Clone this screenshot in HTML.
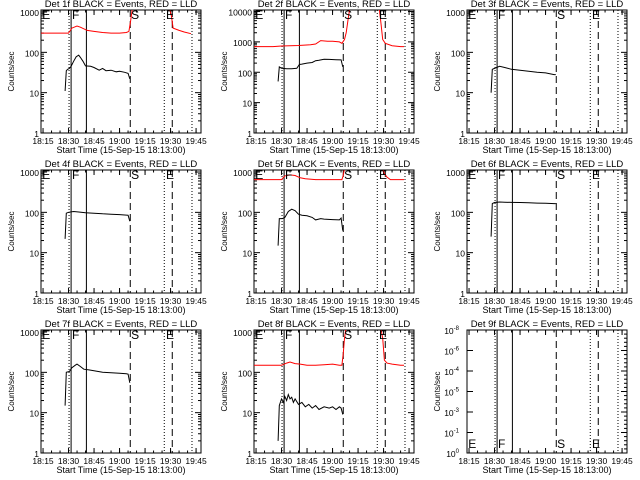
<!DOCTYPE html>
<html><head><meta charset="utf-8"><style>
body{margin:0;background:#fff;width:640px;height:480px;overflow:hidden}
svg{display:block;font-family:"Liberation Sans",sans-serif}
</style></head><body>
<svg id="fig" width="640" height="480" xmlns="http://www.w3.org/2000/svg"></svg>
<script>
// Time in minutes after 18:00; values in counts/sec
const xTickLabels = ["18:15","18:30","18:45","19:00","19:15","19:30","19:45"];
const xTickMinutes = [15,30,45,60,75,90,105];
const markerLines = [30.3, 31.5, 40.5, 66.3, 86.3, 91.0, 102.6];
const markerStyles = ["dot","solid","solid","dash","dot","dash","dot"];
const markerLetters = ["E","F","S","E"];
const markerLetterMinutes = [14.5, 32, 66.8, 87.3];

const blk1t = [28,28.7,29.5,30.5,31.5,33,34.5,36,37,38.5,40,43,45,48,50,52,55,58,60,63,65,66];
const blk1v = [11,35,38,40,45,60,78,85,75,60,46,45,42,36,40,35,36,33,34,32,30,22];
const red1t = [13.8,20,30,32,35,37,41,45,50,55,60,64,65.5,66.5,67.5,null,89.5,90.5,91.5,95,98,102];
const red1v = [300,300,300,400,450,420,350,330,310,300,300,310,330,600,1200,null,1200,800,400,350,320,290];

const blk2t = [28,28.7,30,33,36,39,40.5,42,45,48,50,52,55,58,62,65,66];
const blk2v = [50,150,135,130,130,135,180,185,200,210,240,250,270,265,260,255,150];
const red2t = [13.8,25,30,40,47,50,53,57,60,64,65.5,67,68,69,70,null,87.5,88.5,89.5,91,95,100,102];
const red2v = [700,700,730,760,800,850,1100,1050,1050,1000,900,1200,2000,5000,12000,null,12000,4000,1200,900,750,700,700];

const blk3t = [28,28.7,30,33,36,40,45,50,55,60,65,66];
const blk3v = [10,38,40,45,42,38,36,34,32,31,28,28];

const blk4t = [28,28.7,30,33,36,40,45,50,55,60,65,66];
const blk4v = [22,95,100,105,102,98,95,92,90,88,85,60];

const blk5t = [28,28.7,30.5,32,34,36,38,40,42,45,48,50,53,55,60,64,65,66];
const blk5v = [15,70,70,75,105,120,110,90,85,82,75,65,70,68,66,65,72,35];
const red5t = [13.8,25,30,32,35,38,41,44,50,60,65.5,66.2,67,null,89.6,90.6,92,94,98,102];
const red5v = [650,650,650,800,850,820,720,680,650,650,650,800,1200,null,1200,900,750,650,650,650];

const blk6t = [28,28.7,30,33,36,40,45,50,55,60,65,66];
const blk6v = [25,165,175,180,178,176,175,172,170,168,165,165];

const blk7t = [28,28.7,30.5,32,34,35,37,39,42,45,50,55,60,64,65,66];
const blk7v = [15,100,105,130,150,160,140,120,115,110,100,98,95,92,90,55];

const blk8t = [28,28.7,30,31,32,33,34,35,36,37,38,40,42,44,46,48,50,52,55,58,60,62,64,65,66];
const blk8v = [2,15,22,18,25,20,28,22,24,18,22,16,18,14,16,13,15,12,14,13,14,12,14,13,9];
const red8t = [13.8,25,30,33,35,38,41,45,50,55,60,64,65.5,66.3,67,67.8,null,88.5,89.5,90.5,92,95,100,102];
const red8v = [150,150,150,170,180,165,160,150,150,155,160,150,150,300,700,1200,null,1200,700,200,170,160,150,150];

const panels = [
 {n:"1f",b:[blk1t,blk1v],r:[red1t,red1v],max:3.05},
 {n:"2f",b:[blk2t,blk2v],r:[red2t,red2v],max:4.05},
 {n:"3f",b:[blk3t,blk3v],r:null,max:3.05},
 {n:"4f",b:[blk4t,blk4v],r:null,max:3.05},
 {n:"5f",b:[blk5t,blk5v],r:[red5t,red5v],max:3.05},
 {n:"6f",b:[blk6t,blk6v],r:null,max:3.05},
 {n:"7f",b:[blk7t,blk7v],r:null,max:3.05},
 {n:"8f",b:[blk8t,blk8v],r:[red8t,red8v],max:3.05},
 {n:"9f",b:null,r:null,max:0,empty:true}
];
const p9Labels = [["10","0"],["10","-1"],["10","-3"],["10","-5"],["10","-4"],["10","-6"],["10","-8"]];

const NS="http://www.w3.org/2000/svg";
const svg=document.getElementById("fig");
function el(tag,attrs,parent){const e=document.createElementNS(NS,tag);for(const k in attrs)e.setAttribute(k,attrs[k]);(parent||svg).appendChild(e);return e;}
const colL=[41,254,467], rowT=[10,170,330], W=160, H=123;
const XMIN=13.8, XMAX=107.9;

panels.forEach((p,i)=>{
  const L=colL[i%3], T=rowT[Math.floor(i/3)], B=T+H, R=L+W;
  const g=el("g",{});
  
  
  const xs=m=>L+(m-XMIN)/(XMAX-XMIN)*W;
  const ys=v=>B-(Math.log10(v)/p.max)*H;
  const t=el("text",{x:L+W/2,y:T-3,"text-anchor":"middle","font-size":"9.5"},g);
  t.textContent="Det "+p.n+" BLACK = Events, RED = LLD";
  
  
  const xl=el("text",{x:L+W/2,y:B+20,"text-anchor":"middle","font-size":"9"},g);
  xl.textContent="Start Time (15-Sep-15 18:13:00)";
  
  
  const yl=el("text",{x:0,y:0,"text-anchor":"middle","font-size":"8",transform:`translate(${L-27},${T+H/2}) rotate(-90)`},g);
  yl.textContent="Counts/sec";
  
  
  const box=el("rect",{x:L,y:T,width:W,height:H,fill:"none",stroke:"#000","stroke-width":"1"},g);
  
  
  xTickMinutes.forEach((m,k)=>{
    const x=xs(m);
    el("line",{x1:x,y1:B,x2:x,y2:B-5,stroke:"#000"},g);
    el("line",{x1:x,y1:T,x2:x,y2:T+5,stroke:"#000"},g);
    const lb=el("text",{x:x,y:B+11,"text-anchor":"middle","font-size":"8.5"},g);
    lb.textContent=xTickLabels[k];
    
    
  });
  for(let m=15;m<XMAX;m+=5){const x=xs(m);el("line",{x1:x,y1:B,x2:x,y2:B-2.5,stroke:"#000"},g);el("line",{x1:x,y1:T,x2:x,y2:T+2.5,stroke:"#000"},g);}
  if(!p.empty){
    for(let d=0;d<=Math.floor(p.max);d++){
      const y=ys(Math.pow(10,d));
      el("line",{x1:L,y1:y,x2:L+6,y2:y,stroke:"#000"},g);
      el("line",{x1:R,y1:y,x2:R-6,y2:y,stroke:"#000"},g);
      const lb=el("text",{x:L-2,y:y+4,"text-anchor":"end","font-size":"8.5"},g);
      lb.textContent=String(Math.pow(10,d));
      
      
      for(let k=2;k<10;k++){const v=k*Math.pow(10,d);if(Math.log10(v)>p.max)break;const yy=ys(v);
        el("line",{x1:L,y1:yy,x2:L+3,y2:yy,stroke:"#000"},g);el("line",{x1:R,y1:yy,x2:R-3,y2:yy,stroke:"#000"},g);}
    }
  } else {
    p9Labels.forEach((lab,k)=>{
      const y=B-k*H/6;
      el("line",{x1:L,y1:y,x2:L+6,y2:y,stroke:"#000"},g);
      el("line",{x1:R,y1:y,x2:R-6,y2:y,stroke:"#000"},g);
      const lb=el("text",{x:L-8,y:y+4,"text-anchor":"end","font-size":"8.5"},g);
      lb.textContent=lab[0];
      const sp=el("tspan",{dy:"-4","font-size":"6"},lb);sp.textContent=lab[1];
      
      
      for(let j=1;j<5;j++){const yy=y-j*H/30;if(yy<T)break;el("line",{x1:R,y1:yy,x2:R-3,y2:yy,stroke:"#000"},g);}
    });
  }
  const clip=el("clipPath",{id:"c"+i},g);
  el("rect",{x:L,y:T,width:W,height:H},clip);
  const cg=el("g",{"clip-path":`url(#c${i})`},g);
  markerLines.forEach((m,k)=>{
    const x=xs(m);const st=markerStyles[k];
    const ln=el("line",{x1:x,y1:T,x2:x,y2:B,stroke:"#000","stroke-width":"1","stroke-dasharray":st=="dot"?"1,2":st=="dash"?"7,4":"none"},cg);
    
    
  });
  markerLetters.forEach((s,k)=>{
    const ly=p.empty?B-5:T+9;
    const lt=el("text",{x:xs(markerLetterMinutes[k]),y:ly,"font-size":"12"},g);
    lt.textContent=s;
    
    
  });
  function series(arr,color,name){
    if(!arr)return;
    const [tt,vv]=arr;let d="",pen=false;
    tt.forEach((m,k)=>{
      if(m===null){pen=false;return;}
      d+=(pen?"L":"M")+xs(m).toFixed(1)+","+ys(vv[k]).toFixed(1);pen=true;
    });
    const pa=el("path",{d:d,fill:"none",stroke:color,"stroke-width":"1"},cg);
    
    
  }
  series(p.r,"#ff0000","lld-series-red");
  series(p.b,"#000000","events-series-black");
});
</script>
</body></html>
